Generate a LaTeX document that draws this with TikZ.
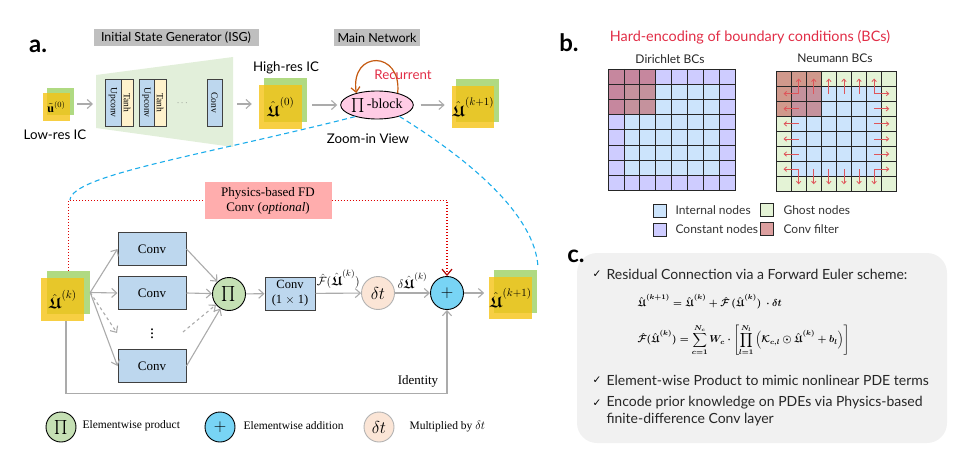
\documentclass[tikz,border=0pt]{standalone}
\usepackage{fontspec}
\usepackage{amsmath}
\usepackage{amssymb}
\setmainfont{Liberation Serif}
\setsansfont{Lato}
\newfontfamily\symfont{DejaVu Sans}
\usetikzlibrary{arrows.meta,shapes.geometric}

\definecolor{tagbg}{HTML}{BFBFBF}
\definecolor{isgbg}{HTML}{E2EFDA}
\definecolor{convfill}{HTML}{BDD7EE}
\definecolor{tanhfill}{HTML}{FFF2CC}
\definecolor{mapyellow}{RGB}{245,195,20}
\definecolor{mapgreen}{RGB}{176,218,130}
\definecolor{blockpink}{HTML}{FFCCE5}
\definecolor{recurline}{HTML}{C55A11}
\definecolor{titlered}{RGB}{225,45,70}
\definecolor{zoomblue}{HTML}{1CADEB}
\definecolor{flowgray}{HTML}{ABABAB}
\definecolor{fdfill}{HTML}{FFADAD}
\definecolor{fdred}{HTML}{E00000}
\definecolor{fdhead}{HTML}{B00000}
\definecolor{prodgreen}{HTML}{C5E0B4}
\definecolor{dtpeach}{HTML}{FBE5D6}
\definecolor{addblue}{HTML}{78D4F5}
\definecolor{innerblue}{RGB}{204,228,252}
\definecolor{constblue}{RGB}{206,204,255}
\definecolor{ghostgreen}{RGB}{228,243,214}
\definecolor{filterred}{RGB}{192,80,80}
\definecolor{bcred}{RGB}{222,85,90}
\definecolor{panelgray}{RGB}{241,241,241}
\newcommand{\Uhat}{\hat{\boldsymbol{\mathfrak{U}}}}

\begin{document}
\begin{tikzpicture}[x=1pt, y=-1pt,
		flowarrow/.style={draw=flowgray, line width=1.1pt, -{Straight Barb[length=5pt, width=9pt]}},
		tag/.style={fill=tagbg, inner sep=0pt, minimum height=17pt, font=\sffamily\fontsize{12.5}{14}\selectfont},
		txt/.style={font=\sffamily\fontsize{13.3}{15}\selectfont},
		panel/.style={font=\sffamily\bfseries\fontsize{24}{26}\selectfont},
		isglayer/.style={draw=black!75, line width=0.6pt, rotate=-90, minimum width=47pt, inner sep=0pt, font=\fontsize{9.5}{10}\selectfont},
		mapg/.style={fill=mapgreen, inner sep=0pt},
		mapy/.style={fill=mapyellow, fill opacity=0.8, text opacity=1, inner sep=0pt, font=\fontsize{15.5}{17}\selectfont},
		convbox/.style={draw=black!75, fill=convfill, line width=1pt, minimum width=68pt, minimum height=33pt, font=\fontsize{13}{15}\selectfont},
		opcircle/.style={circle, draw, line width=0.9pt, inner sep=0pt, minimum size=33pt},
		recur/.style={draw=recurline, line width=1.2pt, -{Straight Barb[length=5pt, width=9pt]}},
		zoomline/.style={draw=zoomblue, line width=1.1pt, dash pattern=on 5pt off 3.5pt},
		fdline/.style={draw=fdred, line width=1.2pt, dash pattern=on 1.2pt off 1.8pt},
		legtxt/.style={anchor=west, font=\fontsize{11.5}{13}\selectfont},
		gridline/.style={draw=black!85, line width=0.7pt},
		bcarrow/.style={draw=bcred, line width=0.8pt, -{Straight Barb[length=2.5pt, width=4.5pt]}},
		legsq/.style={draw=black!85, line width=0.8pt, minimum size=13pt, inner sep=0pt},
		btxt/.style={anchor=west, font=\sffamily\fontsize{12}{14}\selectfont, text=black!80},
		chk/.style={font=\symfont\fontsize{10.5}{12}\selectfont},
		ctxt/.style={anchor=west, font=\sffamily\fontsize{14}{17}\selectfont, text=black!85},
		eqtxt/.style={anchor=west, font=\fontsize{10}{12}\selectfont\boldmath}
	]
	\useasboundingbox (0,0) rectangle (975,460);

	\node[panel] (pa) at (38,46) {a.};
	\node[tag, minimum width=165pt] (isgtag) at (176,37.5) {Initial State Generator (ISG)};
	\node[tag, minimum width=86pt] (maintag) at (377,37.5) {Main Network};

	\node[mapg, minimum size=27pt] (lrg) at (60.5,101.5) {};
	\node[mapy, minimum size=27pt, font=\fontsize{12}{14}\selectfont] (lr) at (56.5,107) {$\tilde{\mathbf{u}}^{(0)}$};
	\node[txt] (lrlab) at (55,135) {Low-res IC};

	\fill[isgbg] (96,75) -- (233,57) -- (233,147) -- (96,128) -- cycle;
	\coordinate (isgin) at (93,104);
	\coordinate (isgout) at (237,104);
	\node[isglayer, fill=convfill, minimum height=16pt] (up1) at (113,102.5) {Upconv};
	\node[isglayer, fill=tanhfill, minimum height=12pt] (th1) at (127,102.5) {Tanh};
	\node[isglayer, fill=convfill, minimum height=15pt] (up2) at (146.5,102.5) {Upconv};
	\node[isglayer, fill=tanhfill, minimum height=12pt] (th2) at (160,102.5) {Tanh};
	\node[text=black!60, font=\fontsize{9}{9}\selectfont] (isgdots) at (183,103) {$\cdots$};
	\node[isglayer, fill=convfill, minimum height=15pt] (isgconv) at (214.5,102.5) {Conv};

	\node[mapg, minimum size=43pt] (hrg) at (285.5,100) {};
	\node[mapy, minimum size=43pt] (hr) at (280.5,107) {$\Uhat^{(0)}$};
	\node[txt] (hrlab) at (286,68) {High-res IC};

	\node[ellipse, draw, fill=blockpink, line width=0.9pt, minimum width=66pt, minimum height=28pt, inner sep=0pt, font=\fontsize{14}{16}\selectfont] (pib) at (377,105) {$\prod$\,-block};
	\node[mapg, minimum size=43pt] (otg) at (477.5,100.5) {};
	\node[mapy, minimum size=42pt] (ot) at (473,107) {$\Uhat^{(k+1)}$};
	\node[txt] (zoomlab) at (368,139) {Zoom-in View};

	\draw[flowarrow] (lrg.east |- isgin) ++(3,0) -- (isgin);
	\draw[flowarrow, shorten >=7pt] (isgout) -- (hr.west |- isgout);
	\draw[flowarrow, shorten >=3pt] (hrg.east |- pib) ++(5,0) -- (pib.west);
	\draw[flowarrow, shorten <=7pt, shorten >=7pt] (pib.east) -- (ot.west |- pib);
	\draw[recur] (pib.30) .. controls (402,50) and (350,50) .. (pib.150);
	\node[txt, text=titlered] (reclab) at (403,75) {Recurrent};
	\draw[zoomline] (pib.208) .. controls (200,156) and (72,175) .. (70,200);
	\draw[zoomline] (pib.333) .. controls (470,160) and (535,215) .. (538,267);

	\node[mapg, minimum size=43pt] (ukg) at (68.5,292.5) {};
	\node[mapy, minimum size=43pt] (uk) at (62.5,299.5) {$\Uhat^{(k)}$};
	\node[fill=fdfill, minimum width=127pt, minimum height=37pt, align=center, inner sep=0pt, font=\fontsize{13}{15}\selectfont] (fd) at (268,200.5) {Physics-based FD\\Conv (\textit{optional})};
	\node[convbox] (c1) at (152,249) {Conv};
	\node[convbox] (c2) at (152,293) {Conv};
	\node[convbox] (c3) at (152,366) {Conv};
	\node[font=\fontsize{16}{16}\selectfont] (vd) at (152,331) {$\boldsymbol{\vdots}$};
	\coordinate (dl) at (117,333);
	\coordinate (dr) at (183,332);
	\node[opcircle, fill=prodgreen, font=\fontsize{15}{15}\selectfont] (pr) at (229,294) {$\prod$};
	\node[convbox, minimum width=50pt, align=center, font=\fontsize{12.5}{15}\selectfont] (c11) at (290,293.5) {Conv\\(1 $\times$ 1)};
	\node[opcircle, fill=dtpeach, draw=black!30, font=\fontsize{17}{17}\selectfont] (dt) at (378,293) {$\delta t$};
	\node[opcircle, fill=addblue, font=\fontsize{18}{18}\selectfont] (plus) at (447,293) {$+$};
	\node[mapg, minimum size=43pt] (ok1g) at (515.5,291.5) {};
	\node[mapy, minimum size=42pt] (ok1) at (510.5,298) {$\Uhat^{(k+1)}$};
	\node[font=\fontsize{13}{15}\selectfont] (idlab) at (418,381) {Identity};

	\draw[fdline] (ukg.north) |- (fd.west);
	\draw[fdline, -{Straight Barb[length=6pt, width=10pt, color=fdhead]}] (fd.east) -| (plus.north);
	\foreach \c in {c1,c2,c3} \draw[flowarrow] (ukg.east) -- (\c.west);
	\draw[flowarrow, dashed] (ukg.east) -- (dl);
	\foreach \c in {c1,c2,c3} \draw[flowarrow] (\c.east) -- (pr);
	\draw[flowarrow, dashed] (dr) -- (pr);
	\draw[flowarrow] (pr) -- (c11);
	\draw[flowarrow] (c11) -- node[above=1pt, font=\fontsize{13}{15}\selectfont] (flab) {$\hat{\mathcal{F}}(\Uhat^{(k)})$} (dt);
	\draw[flowarrow] (dt) -- node[above=1pt, font=\fontsize{13}{15}\selectfont] (dulab) {$\delta\Uhat^{(k)}$} (plus);
	\draw[flowarrow, shorten >=5pt] (plus) -- (ok1.west |- plus);
	\draw[flowarrow] ([xshift=3.5pt]uk.south) -- ++(0,72) -| (plus.south);

	\node[opcircle, fill=prodgreen, minimum size=30pt, font=\fontsize{14}{14}\selectfont] (lgp) at (61,427) {$\prod$};
	\node[legtxt] (lgptxt) at (79,426) {Elementwise product};
	\node[opcircle, fill=addblue, minimum size=30pt, font=\fontsize{17}{17}\selectfont] (lga) at (220,427) {$+$};
	\node[legtxt] (lgatxt) at (240,426) {Elementwise addition};
	\node[opcircle, fill=dtpeach, draw=black!30, minimum size=30pt, font=\fontsize{16}{16}\selectfont] (lgd) at (379,427) {$\delta t$};
	\node[legtxt] (lgdtxt) at (406,427) {Multiplied by $\delta t$};

	\node[panel] (pb) at (569,43) {b.};
	\node[txt, text=titlered, font=\sffamily\fontsize{14.4}{16}\selectfont] (btitle) at (750,37) {Hard-encoding of boundary conditions (BCs)};
	\node[txt, font=\sffamily\fontsize{12}{14}\selectfont, text=black!85] (dlab) at (670,59) {Dirichlet BCs};
	\node[txt, font=\sffamily\fontsize{12}{14}\selectfont, text=black!85] (nlab) at (835,58) {Neumann BCs};

	\fill[constblue] (608,69) rectangle ++(127.2,121.6);
	\fill[innerblue] (623.9,84.2) rectangle ++(95.4,91.2);
	\fill[filterred, fill opacity=0.55] (608,69) rectangle ++(47.7,45.6);
	\foreach \k in {0,...,8} {
		\draw[gridline] (608+15.9*\k,69) -- ++(0,121.6);
		\draw[gridline] (608,69+15.2*\k) -- ++(127.2,0);
	}

	\fill[ghostgreen] (776,71) rectangle ++(120.8,120.8);
	\fill[innerblue] (791.1,86.1) rectangle ++(90.6,90.6);
	\fill[filterred, fill opacity=0.55] (776,71) rectangle ++(45.3,45.3);
	\foreach \k in {0,...,8} {
		\draw[gridline] (776+15.1*\k,71) -- ++(0,120.8);
		\draw[gridline] (776,71+15.1*\k) -- ++(120.8,0);
	}
	\foreach \k in {1,...,6} {
		\draw[bcarrow] (783.55+15.1*\k,93.65) -- ++(0,-15.1);
		\draw[bcarrow] (783.55+15.1*\k,169.15) -- ++(0,15.1);
		\draw[bcarrow] (798.65,78.55+15.1*\k) -- ++(-15.1,0);
		\draw[bcarrow] (874.15,78.55+15.1*\k) -- ++(15.1,0);
	}

	\node[legsq, fill=innerblue] (lgin) at (659.5,210.5) {};
	\node[btxt] (lgintxt) at (672,210.5) {Internal nodes};
	\node[legsq, fill=constblue] (lgco) at (659.5,229.5) {};
	\node[btxt] (lgcotxt) at (672,229.5) {Constant nodes};
	\node[legsq, fill=ghostgreen] (lggh) at (767,210) {};
	\node[btxt] (lgghtxt) at (780,210) {Ghost nodes};
	\node[legsq, fill=filterred!55] (lgcf) at (767,229) {};
	\node[btxt] (lgcftxt) at (780,229) {Conv filter};

	\fill[panelgray, rounded corners=20pt] (577,253) rectangle (947,443);
	\node[panel] (pc) at (576,256) {c.};
	\node[chk] (k1) at (597,274) {✓};
	\node[ctxt] (b1) at (603,274) {Residual Connection via a Forward Euler scheme:};
	\node[eqtxt] (eq1) at (634,302) {$\Uhat^{(k+1)} = \Uhat^{(k)} + \hat{\mathcal{F}}\,(\Uhat^{(k)})\ \cdot\delta t$};
	\node[eqtxt] (eq2) at (634,340) {$\hat{\mathcal{F}}(\Uhat^{(k)}) = \displaystyle\sum_{c=1}^{N_c} W_c\cdot\left[\prod_{l=1}^{N_l}\left(\mathcal{K}_{c,l}\odot\Uhat^{(k)}+b_l\right)\right]$};
	\node[chk] (k2) at (597,380) {✓};
	\node[ctxt] (b2) at (603,380) {Element-wise Product to mimic nonlinear PDE terms};
	\node[chk] (k3) at (597,403) {✓};
	\node[ctxt, align=left] (b3) at (603,411.5) {Encode prior knowledge on PDEs via Physics-based\\finite-difference Conv layer};
\end{tikzpicture}
\end{document}
